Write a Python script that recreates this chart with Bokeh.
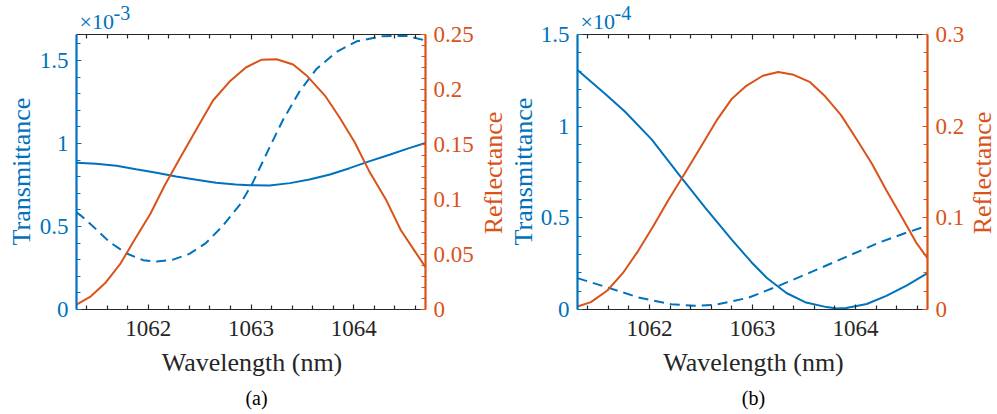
import math
from bokeh.plotting import figure
from bokeh.models import Range1d, LinearAxis, FixedTicker, NumeralTickFormatter, Label
from bokeh.layouts import row
from bokeh.embed import file_html
from bokeh.resources import INLINE

BLUE = "#0072BD"
ORANGE = "#D95319"
DARK = "#262626"
FONT = "Liberation Serif"

# ---------------- data ----------------
x_lim = [1061.3, 1064.7]
x_major = [1062, 1063, 1064]
x_minor = [1061.4, 1061.6, 1061.8, 1062.2, 1062.4, 1062.6, 1062.8, 1063.2, 1063.4,
           1063.6, 1063.8, 1064.2, 1064.4, 1064.6]

# panel (a)  transmittance in units of 1e-3
xa_solid = [1061.30, 1061.49, 1061.69, 1061.88, 1062.08, 1062.27, 1062.47, 1062.66, 1062.85,
            1062.99, 1063.18, 1063.38, 1063.57, 1063.77, 1063.96, 1064.15, 1064.35, 1064.54,
            1064.70]
ta_solid = [0.884, 0.878, 0.866, 0.845, 0.823, 0.801, 0.781, 0.763, 0.753,
            0.748, 0.747, 0.761, 0.783, 0.813, 0.851, 0.892, 0.932, 0.972,
            1.003]
xa_dash = [1061.30, 1061.35, 1061.49, 1061.62, 1061.79, 1061.95, 1062.08, 1062.24, 1062.40,
           1062.56, 1062.72, 1062.89, 1063.01, 1063.18, 1063.31, 1063.47, 1063.64, 1063.83,
           1064.03, 1064.28, 1064.51, 1064.70]
ta_dash = [0.585, 0.562, 0.484, 0.407, 0.337, 0.297, 0.289, 0.300, 0.335,
           0.400, 0.500, 0.630, 0.755, 0.975, 1.140, 1.310, 1.450, 1.550,
           1.615, 1.646, 1.648, 1.620]
xa_refl = [1061.30, 1061.44, 1061.58, 1061.73, 1061.87, 1062.02, 1062.16, 1062.31, 1062.47,
           1062.63, 1062.80, 1062.95, 1063.10, 1063.25, 1063.41, 1063.55, 1063.72, 1063.86,
           1064.01, 1064.15, 1064.32, 1064.46, 1064.61, 1064.70]
ra_refl = [0.0045, 0.012, 0.024, 0.042, 0.064, 0.087, 0.113, 0.138, 0.164,
           0.190, 0.208, 0.220, 0.227, 0.2275, 0.2227, 0.212, 0.1945, 0.175,
           0.152, 0.126, 0.099, 0.072, 0.051, 0.0385]
ta_lim = 1.656
ta_major = [0, 0.5, 1, 1.5]
ta_minor = [0.1, 0.2, 0.3, 0.4, 0.6, 0.7, 0.8, 0.9, 1.1, 1.2, 1.3, 1.4, 1.6]
ra_lim = 0.25
ra_major = [0, 0.05, 0.1, 0.15, 0.2, 0.25]
ra_minor = [0.01, 0.02, 0.03, 0.04, 0.06, 0.07, 0.08, 0.09, 0.11, 0.12, 0.13, 0.14,
            0.16, 0.17, 0.18, 0.19, 0.21, 0.22, 0.23, 0.24]

# panel (b)  transmittance in units of 1e-4
xb_solid = [1061.30, 1061.57, 1061.76, 1062.02, 1062.28, 1062.54, 1062.80, 1062.99, 1063.14,
            1063.33, 1063.52, 1063.72, 1063.82, 1063.91, 1064.11, 1064.30, 1064.50, 1064.70]
tb_solid = [1.306, 1.176, 1.080, 0.928, 0.740, 0.556, 0.380, 0.258, 0.172,
            0.090, 0.038, 0.013, 0.006, 0.008, 0.030, 0.074, 0.132, 0.198]
xb_dash = [1061.30, 1061.57, 1061.89, 1062.21, 1062.44, 1062.63, 1062.96, 1063.27, 1063.59,
           1063.91, 1064.24, 1064.50, 1064.70]
tb_dash = [0.171, 0.124, 0.066, 0.029, 0.020, 0.025, 0.064, 0.133, 0.209,
           0.287, 0.367, 0.420, 0.457]
xb_refl = [1061.30, 1061.43, 1061.59, 1061.74, 1061.89, 1062.04, 1062.18, 1062.34, 1062.49,
           1062.65, 1062.80, 1062.94, 1063.10, 1063.25, 1063.40, 1063.56, 1063.71, 1063.86,
           1064.01, 1064.16, 1064.30, 1064.45, 1064.59, 1064.70]
rb_refl = [0.0033, 0.008, 0.0207, 0.0396, 0.064, 0.0916, 0.119, 0.148, 0.176,
           0.206, 0.230, 0.244, 0.255, 0.259, 0.256, 0.248, 0.232, 0.212,
           0.186, 0.159, 0.130, 0.101, 0.073, 0.056]
tb_lim = 1.5
tb_major = [0, 0.5, 1, 1.5]
tb_minor = [0.1, 0.2, 0.3, 0.4, 0.6, 0.7, 0.8, 0.9, 1.1, 1.2, 1.3, 1.4]
rb_lim = 0.3
rb_major = [0, 0.1, 0.2, 0.3]
rb_minor = [0.02, 0.04, 0.06, 0.08, 0.12, 0.14, 0.16, 0.18, 0.22, 0.24, 0.26, 0.28]

x_title = "Wavelength (nm)"
t_title = "Transmittance"
r_title = "Reflectance"

# ---------------- layout constants (pixels) ----------------
H = 414
BOX_TOP, BOX_BOTTOM = 34, 309
BASE_SHIFT = 0.33   # renderer places the alphabetic baseline ~0.33 em below the anchor


def style_axis(ax, color, label_color, line_width):
    ax.axis_line_color = color
    ax.axis_line_width = line_width
    ax.major_tick_line_color = color
    ax.minor_tick_line_color = color
    ax.major_tick_in = 5
    ax.major_tick_out = 0
    ax.minor_tick_in = 4
    ax.minor_tick_out = 0
    ax.major_tick_line_width = 1.2
    ax.minor_tick_line_width = 1.2
    ax.major_label_text_font = FONT
    ax.major_label_text_font_size = "23px"
    ax.major_label_text_color = label_color


def htext(p, x, baseline, text, size, color, align="left"):
    """horizontal text; baseline given in pixels from the top of the canvas"""
    p.add_layout(Label(x=x, y=H - baseline + BASE_SHIFT * size, x_units="screen",
                       y_units="screen", text=text, text_align=align,
                       text_baseline="alphabetic", text_font=FONT,
                       text_font_size=f"{size}px", text_color=color))


def vtext(p, baseline_x, center_y, text, size, color):
    """text reading bottom-to-top; baseline is a vertical line at baseline_x"""
    p.add_layout(Label(x=baseline_x - BASE_SHIFT * size, y=H - center_y, x_units="screen",
                       y_units="screen", text=text, angle=math.pi / 2, text_align="center",
                       text_baseline="alphabetic", text_font=FONT,
                       text_font_size=f"{size}px", text_color=color))


def make_panel(W, L, R, xs, ts, xd, td, xr, rr, tmax, tmaj, tmin, rmax, rmaj, rmin,
               expo, caption, cap_x, tlab_x, rlab_x):
    sx = (R - L) / (x_lim[1] - x_lim[0])
    x0 = x_lim[0] - L / sx
    x1 = x_lim[1] + (W - R) / sx
    st = (BOX_BOTTOM - BOX_TOP) / tmax
    sr = (BOX_BOTTOM - BOX_TOP) / rmax
    p = figure(width=W, height=H, output_backend="svg", toolbar_location=None,
               x_range=Range1d(x0, x1),
               y_range=Range1d(-(H - BOX_BOTTOM) / st, tmax + BOX_TOP / st),
               x_axis_location=None, y_axis_location=None, min_border=0)
    p.min_border_left = 0
    p.min_border_right = 0
    p.min_border_top = 0
    p.min_border_bottom = 0
    p.title.visible = False
    p.extra_y_ranges = {"refl": Range1d(-(H - BOX_BOTTOM) / sr, rmax + BOX_TOP / sr)}
    p.grid.visible = False
    p.outline_line_color = None
    p.background_fill_color = "white"
    p.border_fill_color = "white"

    bottom = LinearAxis(ticker=FixedTicker(ticks=x_major, minor_ticks=x_minor),
                        fixed_location=0, bounds=(x_lim[0], x_lim[1]))
    style_axis(bottom, DARK, DARK, 1.2)
    bottom.major_label_standoff = 11
    p.add_layout(bottom, "below")

    top = LinearAxis(ticker=FixedTicker(ticks=x_major, minor_ticks=x_minor),
                     fixed_location=tmax, bounds=(x_lim[0], x_lim[1]))
    style_axis(top, DARK, DARK, 1.2)
    top.major_label_text_color = None
    p.add_layout(top, "above")

    left = LinearAxis(ticker=FixedTicker(ticks=tmaj, minor_ticks=tmin),
                      formatter=NumeralTickFormatter(format="0.[0]"),
                      fixed_location=x_lim[0], bounds=(0, tmax))
    style_axis(left, BLUE, BLUE, 2.2)
    left.major_label_standoff = 8
    p.add_layout(left, "left")

    right = LinearAxis(y_range_name="refl", ticker=FixedTicker(ticks=rmaj, minor_ticks=rmin),
                       formatter=NumeralTickFormatter(format="0.[00]"),
                       fixed_location=x_lim[1], bounds=(0, rmax))
    style_axis(right, ORANGE, ORANGE, 2.2)
    right.major_label_standoff = 8
    p.add_layout(right, "right")

    p.line(xs, ts, line_color=BLUE, line_width=2)
    p.line(xd, td, line_color=BLUE, line_width=2, line_dash="10 6")
    p.line(xr, rr, line_color=ORANGE, line_width=2, y_range_name="refl")

    # texts
    vtext(p, tlab_x, 171, t_title, 26, BLUE)
    vtext(p, rlab_x, 172.5, r_title, 26, ORANGE)
    htext(p, L + 3, 28, "\u00d710", 22, BLUE)
    htext(p, L + 37, 19, expo, 20, BLUE)
    htext(p, (L + R) / 2 + 1, 371, x_title, 26, DARK, "center")
    htext(p, cap_x, 404, caption, 20, "black", "center")
    return p


W_A, W_B = 508, 489
pa = make_panel(W_A, 76, 425, xa_solid, ta_solid, xa_dash, ta_dash, xa_refl, ra_refl,
                ta_lim, ta_major, ta_minor, ra_lim, ra_major, ra_minor, "-3", "(a)",
                256, 30, 502)
pb = make_panel(W_B, 577 - W_A, 927 - W_A, xb_solid, tb_solid, xb_dash, tb_dash, xb_refl,
                rb_refl, tb_lim, tb_major, tb_minor, rb_lim, rb_major, rb_minor, "-4", "(b)",
                753 - W_A, 532 - W_A, 991 - W_A)

layout = row(pa, pb)
open("out.html", "w").write(file_html(layout, INLINE))
